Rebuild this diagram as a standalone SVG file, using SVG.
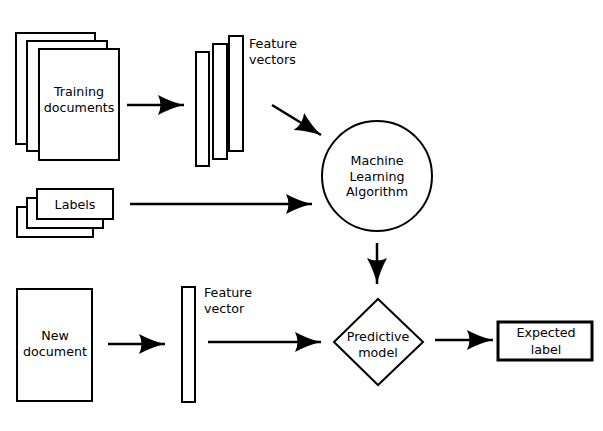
<svg xmlns="http://www.w3.org/2000/svg" width="603" height="431" viewBox="0 0 603 431">
<defs>
<marker id="ah" markerUnits="userSpaceOnUse" markerWidth="30" markerHeight="22" refX="26" refY="10" orient="auto">
<path d="M0,0 Q13,7 26,10 Q13,13 0,20 Q5,10 0,0 Z" fill="#000"/>
</marker>
<style>
.box{fill:#fff;stroke:#000;stroke-width:2}
.thick{fill:#fff;stroke:#000;stroke-width:3}
.conn{fill:none;stroke:#000;stroke-width:2.5;marker-end:url(#ah)}
text{font-family:"DejaVu Sans","Liberation Sans",sans-serif;font-size:12.7px;fill:#000;text-anchor:middle}
.lt{text-anchor:start}
</style>
</defs>
<rect width="603" height="431" fill="#fff"/>
<g id="training-documents">
<rect class="box" x="16" y="33" width="79" height="111"/>
<rect class="box" x="27" y="41" width="80" height="110"/>
<rect class="box" x="39" y="49" width="80" height="111"/>
<text x="79" y="96">Training</text>
<text x="79" y="112">documents</text>
</g>
<g id="feature-vectors">
<rect class="box" x="196" y="52" width="13" height="114"/>
<rect class="box" x="213" y="44" width="14" height="115"/>
<rect class="box" x="229" y="36" width="14" height="115"/>
<text class="lt" x="249" y="48">Feature</text>
<text class="lt" x="249" y="64">vectors</text>
</g>
<g id="labels">
<rect class="box" x="17" y="207" width="76" height="30"/>
<rect class="box" x="27" y="198" width="76" height="30"/>
<rect class="box" x="37" y="189" width="76" height="30"/>
<text x="75" y="209">Labels</text>
</g>
<g id="ml-algorithm">
<circle class="box" cx="377" cy="176" r="55"/>
<text x="377" y="165">Machine</text>
<text x="377" y="181">Learning</text>
<text x="377" y="196">Algorithm</text>
</g>
<g id="new-document">
<rect class="box" x="17" y="289" width="75" height="112"/>
<text x="55" y="340">New</text>
<text x="55" y="356">document</text>
</g>
<g id="feature-vector">
<rect class="box" x="182" y="287" width="13" height="115"/>
<text class="lt" x="204" y="297">Feature</text>
<text class="lt" x="204" y="313">vector</text>
</g>
<g id="predictive-model">
<polygon class="box" points="378,299 423,342 378,385 334,342"/>
<text x="378" y="341">Predictive</text>
<text x="378" y="357">model</text>
</g>
<g id="expected-label">
<rect class="thick" x="498" y="322" width="94" height="38"/>
<text x="546" y="337">Expected</text>
<text x="546" y="354">label</text>
</g>
<g id="connectors">
<line class="conn" x1="127" y1="105" x2="184" y2="105"/>
<line class="conn" x1="272" y1="105" x2="321" y2="135"/>
<line class="conn" x1="130" y1="204" x2="312" y2="204"/>
<line class="conn" x1="377" y1="243" x2="377" y2="284"/>
<line class="conn" x1="108" y1="344" x2="165" y2="344"/>
<line class="conn" x1="208" y1="342" x2="321" y2="342"/>
<line class="conn" x1="435" y1="340" x2="493" y2="340"/>
</g>
</svg>
